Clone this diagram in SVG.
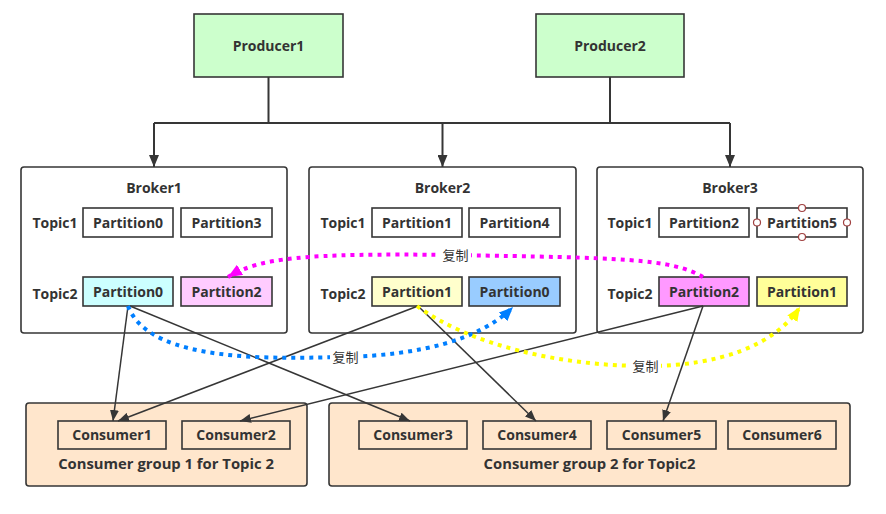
<svg xmlns="http://www.w3.org/2000/svg" width="886" height="514" viewBox="0 0 886 514">
<style>
text{font-family:"Open Sans","Noto Sans CJK SC",sans-serif;font-weight:bold;font-size:14px;fill:#333;text-anchor:middle}
.lbl{font-weight:normal;font-size:13px}
.glbl{font-size:14.8px}
.box{stroke:#363636;stroke-width:1.6}
.prod{fill:#ccffcc}
.broker{fill:#fff}
.grp{fill:#ffe6cc}
.plain{fill:#fff}
.cons{fill:#ffe6cc}
.wire{fill:none;stroke:#363636;stroke-width:2}
.link{fill:none;stroke:#363636;stroke-width:1.5}
.dot{fill:none;stroke-width:4;stroke-dasharray:4 5}
.handle{fill:#fff;stroke:#a04040;stroke-width:1.2}
</style>
<defs>
<marker id="ah" markerUnits="userSpaceOnUse" markerWidth="13" markerHeight="10" refX="12" refY="5" orient="auto"><path d="M0,0 L12,5 L0,10 z" fill="#363636"/></marker>
<marker id="as" markerUnits="userSpaceOnUse" markerWidth="12" markerHeight="9" refX="11" refY="4.5" orient="auto"><path d="M0,0 L11,4.5 L0,9 z" fill="#363636"/></marker>
<marker id="am" markerUnits="userSpaceOnUse" markerWidth="15" markerHeight="12" refX="14" refY="6" orient="auto"><path d="M0,0 L14,6 L0,12 z" fill="#ff00ff"/></marker>
<marker id="ab" markerUnits="userSpaceOnUse" markerWidth="15" markerHeight="12" refX="14" refY="6" orient="auto"><path d="M0,0 L14,6 L0,12 z" fill="#007fff"/></marker>
<marker id="ay" markerUnits="userSpaceOnUse" markerWidth="15" markerHeight="12" refX="14" refY="6" orient="auto"><path d="M0,0 L14,6 L0,12 z" fill="#ffff00"/></marker>
</defs>
<rect width="886" height="514" fill="#fff"/>

<g id="producer1"><rect class="box prod" x="194" y="14" width="149" height="63"/><text x="268.5" y="51">Producer1</text></g>
<g id="producer2"><rect class="box prod" x="536" y="14" width="148" height="63"/><text x="610" y="51">Producer2</text></g>

<g id="broker1">
<rect class="box broker" x="21" y="167" width="266" height="166" rx="3"/>
<text x="154" y="193">Broker1</text>
<text x="55" y="228">Topic1</text>
<text x="55" y="299">Topic2</text>
<g id="b1-t1-p0"><rect class="box plain" x="83" y="208" width="90" height="29"/><text x="128" y="228">Partition0</text></g>
<g id="b1-t1-p3"><rect class="box plain" x="181" y="208" width="91" height="29"/><text x="226.5" y="228">Partition3</text></g>
<g id="b1-t2-p0"><rect class="box" fill="#ccffff" x="83" y="277" width="90" height="29"/><text x="128" y="297">Partition0</text></g>
<g id="b1-t2-p2"><rect class="box" fill="#ffccff" x="181" y="277" width="91" height="29"/><text x="226.5" y="297">Partition2</text></g>
</g>

<g id="broker2">
<rect class="box broker" x="309" y="167" width="267" height="166" rx="3"/>
<text x="442.5" y="193">Broker2</text>
<text x="343" y="228">Topic1</text>
<text x="343" y="299">Topic2</text>
<g id="b2-t1-p1"><rect class="box plain" x="372" y="208" width="90" height="29"/><text x="417" y="228">Partition1</text></g>
<g id="b2-t1-p4"><rect class="box plain" x="469" y="208" width="91" height="29"/><text x="514.5" y="228">Partition4</text></g>
<g id="b2-t2-p1"><rect class="box" fill="#ffffcc" x="372" y="277" width="90" height="29"/><text x="417" y="297">Partition1</text></g>
<g id="b2-t2-p0"><rect class="box" fill="#99ccff" x="469" y="277" width="91" height="29"/><text x="514.5" y="297">Partition0</text></g>
</g>

<g id="broker3">
<rect class="box broker" x="597" y="167" width="266" height="166" rx="3"/>
<text x="730" y="193">Broker3</text>
<text x="630" y="228">Topic1</text>
<text x="630" y="299">Topic2</text>
<g id="b3-t1-p2"><rect class="box plain" x="659" y="208" width="90" height="29"/><text x="704" y="228">Partition2</text></g>
<g id="b3-t1-p5"><rect class="box plain" x="757" y="208" width="90" height="29"/><text x="802" y="228">Partition5</text>
<circle class="handle" cx="802" cy="208" r="3.5"/><circle class="handle" cx="802" cy="237" r="3.5"/><circle class="handle" cx="757" cy="222.5" r="3.5"/><circle class="handle" cx="847" cy="222.5" r="3.5"/></g>
<g id="b3-t2-p2"><rect class="box" fill="#ff99ff" x="659" y="277" width="90" height="29"/><text x="704" y="297">Partition2</text></g>
<g id="b3-t2-p1"><rect class="box" fill="#ffff99" x="757" y="277" width="90" height="29"/><text x="802" y="297">Partition1</text></g>
</g>

<g id="group1">
<rect class="box grp" x="26" y="403" width="281" height="83" rx="3"/>
<text class="glbl" x="166" y="469">Consumer group 1 for Topic 2</text>
<g id="consumer1"><rect class="box cons" x="58" y="421" width="108" height="28"/><text x="112" y="440">Consumer1</text></g>
<g id="consumer2"><rect class="box cons" x="182" y="421" width="108" height="28"/><text x="236" y="440">Consumer2</text></g>
</g>

<g id="group2">
<rect class="box grp" x="329" y="403" width="521" height="83" rx="3"/>
<text class="glbl" x="589.5" y="469">Consumer group 2 for Topic2</text>
<g id="consumer3"><rect class="box cons" x="359" y="421" width="108" height="28"/><text x="413" y="440">Consumer3</text></g>
<g id="consumer4"><rect class="box cons" x="483" y="421" width="108" height="28"/><text x="537" y="440">Consumer4</text></g>
<g id="consumer5"><rect class="box cons" x="607" y="421" width="109" height="28"/><text x="661.5" y="440">Consumer5</text></g>
<g id="consumer6"><rect class="box cons" x="728" y="421" width="108" height="28"/><text x="782" y="440">Consumer6</text></g>
</g>

<g id="connectors">
<path class="wire" d="M268.5,77 V123 M610,77 V123 M154,123 H730"/>
<path class="wire" d="M154,123 V167" marker-end="url(#ah)"/>
<path class="wire" d="M442.5,123 V167" marker-end="url(#ah)"/>
<path class="wire" d="M730,123 V167" marker-end="url(#ah)"/>

<path class="link" d="M128,306 L113,421" marker-end="url(#as)"/>
<path class="link" d="M130,306 L410,421" marker-end="url(#as)"/>
<path class="link" d="M418,306 L118,421" marker-end="url(#as)"/>
<path class="link" d="M418,306 L536,421" marker-end="url(#as)"/>
<path class="link" d="M703,306 L240,421" marker-end="url(#as)"/>
<path class="link" d="M703,306 L663,421" marker-end="url(#as)"/>

<path class="dot" stroke="#ff00ff" d="M703,277 C670,258 620,258 455,255 C300,253 260,258 228,277" marker-end="url(#am)"/>
<path class="dot" stroke="#007fff" d="M128,306 C150,365 280,358 345,357 C420,355 480,340 513,307" marker-end="url(#ab)"/>
<path class="dot" stroke="#ffff00" d="M417,306 C470,345 560,366 646,366 C720,366 775,345 800,307" marker-end="url(#ay)"/>

<rect x="440" y="246" width="31" height="18" fill="#fff"/>
<text class="lbl" x="455.5" y="260">复制</text>
<rect x="330" y="348" width="31" height="18" fill="#fff"/>
<text class="lbl" x="345.5" y="362">复制</text>
<rect x="630" y="357" width="31" height="18" fill="#fff"/>
<text class="lbl" x="645.5" y="371">复制</text>
</g>
</svg>
